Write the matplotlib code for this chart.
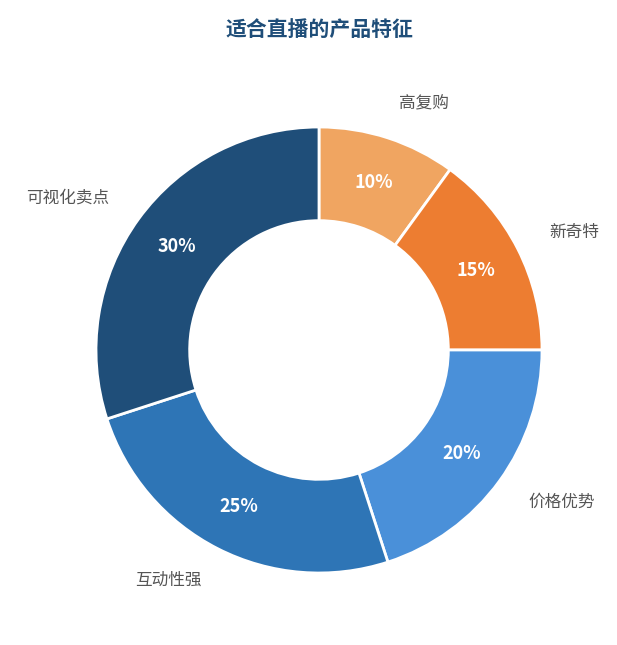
import matplotlib
matplotlib.use('Agg')
import matplotlib.pyplot as plt

plt.rcParams['font.family'] = ['Noto Sans CJK SC', 'DejaVu Sans']

labels = ['高复购', '新奇特', '价格优势', '互动性强', '可视化卖点']
values = [10, 15, 20, 25, 30]
colors = ['#F0A561', '#ED7D31', '#4A90D9', '#2E75B6', '#1F4E79']

fig = plt.figure(figsize=(6.17, 6.45), dpi=100)
fig.text(0.517, 0.955, '适合直播的产品特征', ha='center', va='center',
         fontsize=15, fontweight='bold', color='#1F4E79')

ax = fig.add_axes([96/617, 72/645, 446/617, 446/645])
wedges, texts, autotexts = ax.pie(
    values, labels=labels, colors=colors, startangle=90, counterclock=False,
    autopct='%d%%', pctdistance=0.79, labeldistance=1.16,
    wedgeprops=dict(width=0.42, edgecolor='white', linewidth=2),
    textprops=dict(fontsize=12, color='#555555'))
for t in autotexts:
    t.set_color('white')
    t.set_fontweight('bold')
    t.set_fontsize(13)
ax.set_xlim(-1, 1)
ax.set_ylim(-1, 1)
ax.set_aspect('equal')

fig.savefig('out.png', dpi=100)
